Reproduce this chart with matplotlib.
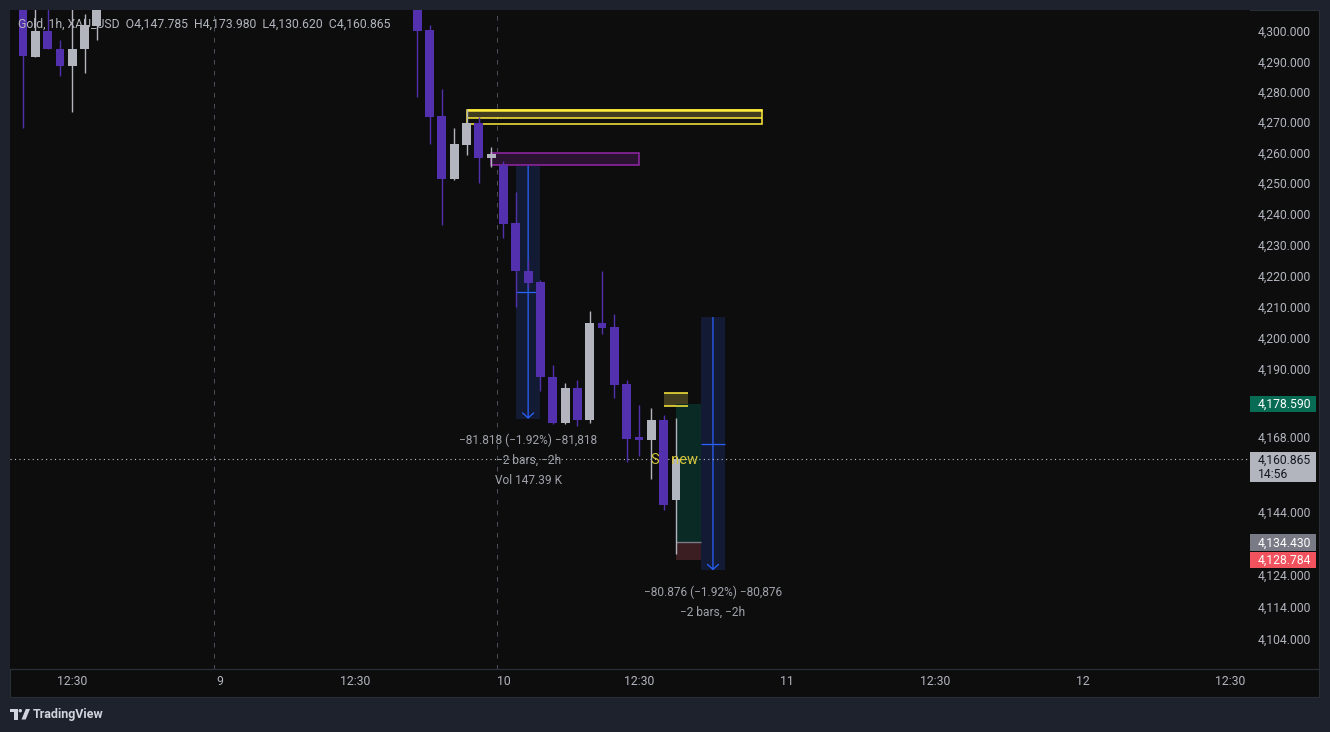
import numpy as np
import matplotlib
matplotlib.use("Agg")
import matplotlib.pyplot as plt
from matplotlib.patches import Rectangle, Polygon, Circle
from matplotlib.lines import Line2D
from matplotlib.transforms import IdentityTransform
from matplotlib.ticker import NullLocator, NullFormatter

plt.rcParams['font.family'] = ['Roboto', 'DejaVu Sans']

# ---------------- data ----------------
bar_index = [0, 1, 2, 3, 4, 5, 6,
             32, 33, 34, 35, 36, 37, 38, 39, 40, 41, 42, 43, 44, 45, 46,
             47, 48, 49, 50, 51, 52, 53]
opens  = [4312.0, 4291.5, 4300.0, 4294.05, 4288.3, 4294.2, 4301.8,
          4312.0, 4300.3, 4272.0, 4251.3, 4262.5, 4269.8, 4258.3, 4255.9,
          4237.1, 4221.5, 4217.9, 4187.3, 4172.3, 4183.8, 4173.3, 4204.5,
          4203.2, 4184.8, 4167.7, 4166.9, 4173.3, 4147.785]
highs  = [4315.0, 4310.0, 4309.0, 4297.0, 4308.0, 4305.6, 4315.0,
          4316.0, 4302.0, 4280.9, 4268.0, 4274.4, 4271.6, 4261.8, 4257.2,
          4247.0, 4225.0, 4218.6, 4191.2, 4185.4, 4186.1, 4208.5, 4221.5,
          4207.5, 4186.1, 4178.1, 4177.2, 4174.9, 4173.980]
lows   = [4268.1, 4291.3, 4294.0, 4285.3, 4273.2, 4286.1, 4297.0,
          4278.4, 4262.9, 4236.5, 4251.0, 4259.3, 4250.0, 4255.3, 4232.2,
          4209.8, 4216.0, 4182.6, 4172.0, 4172.0, 4171.4, 4172.3, 4201.0,
          4180.4, 4159.9, 4161.9, 4154.4, 4144.5, 4130.620]
closes = [4291.85, 4300.0, 4294.2, 4288.3, 4294.05, 4302.0, 4311.0,
          4300.1, 4271.8, 4251.4, 4262.8, 4269.8, 4258.3, 4259.6, 4236.8,
          4221.3, 4217.7, 4187.1, 4172.3, 4183.8, 4173.3, 4204.5, 4203.0,
          4184.6, 4167.4, 4167.0, 4173.3, 4146.1, 4160.865]

time_tick_pos = [4, 16, 27, 39, 50, 62, 74, 86, 98]
time_tick_labels = ["12:30", "9", "12:30", "10", "12:30", "11", "12:30", "12", "12:30"]
session_breaks = [15.5, 38.5]

price_ticks = [4300, 4290, 4280, 4270, 4260, 4250, 4240, 4230, 4220, 4210,
               4200, 4190, 4180, 4168, 4144, 4124, 4114, 4104]

header_text = "Gold, 1h, XAU_USD  O4,147.785  H4,173.980  L4,130.620  C4,160.865"
last_price = 4160.865
countdown = "14:56"

long_x = [53, 55]
long_target, long_entry, long_stop = 4178.590, 4134.430, 4128.784

zone1_x = [36, 60]
zone1_prices = [4269.4, 4271.3, 4274.1]
zone2_x = [38, 50]
zone2_prices = [4255.9, 4259.8]
zone3_x = [52, 54]
zone3_prices = [4177.8, 4182.0]

meas1_x = [40, 42]
meas1_prices = [4173.80, 4255.62]
meas1_text = ["\u221281.818 (\u22121.92%) \u221281,818", "\u22122 bars, \u22122h", "Vol 147.39 K"]
meas2_x = [55, 57]
meas2_prices = [4125.52, 4206.40]
meas2_text = ["\u221280.876 (\u22121.92%) \u221280,876", "\u22122 bars, \u22122h"]

note_text = "SL new"
note_pos = (50.95, 4160.7)

# ---------------- style ----------------
W, H = 1330, 732
OUTER = '#1e222d'
CHART = '#0d0d0d'
GRIDC = '#2a2e39'
TXT = '#b2b5be'
BULL = '#b2b5be'
BEAR = '#5230ae'
BLUE = '#2962ff'
MEAS_FILL = '#131b34'
YEL = '#ffeb3b'
OLIVE = '#433d1f'

fig = plt.figure(figsize=(W / 100, H / 100), dpi=100, facecolor=OUTER)

def disp(x, y_top):
    return x, H - y_top

# chart frame background
fig.add_artist(Rectangle(disp(10, 697), 1309, 687, transform=IdentityTransform(),
                         fc=CHART, ec=GRIDC, lw=0.8, zorder=-5))

ax = fig.add_axes([10 / W, (H - 669) / H, 1240 / W, 659 / H])
ax.set_facecolor(CHART)
for s in ax.spines.values():
    s.set_visible(False)
ax.set_yscale('log')
ax.set_xlim(-1.055, 99.59)
ax.set_ylim(4094.33, 4306.94)

# y ticks on right
ax.yaxis.set_minor_locator(NullLocator())
ax.yaxis.set_minor_formatter(NullFormatter())
ax.set_yticks(price_ticks, [f"{p:,.3f}" for p in price_ticks])
ax.tick_params(axis='y', which='both', left=False, right=False, labelleft=False,
               labelright=True, length=0, pad=43.9, colors=TXT, labelsize=8.7)
for lab in ax.get_yticklabels():
    lab.set_horizontalalignment('right')
# x ticks
ax.xaxis.set_minor_locator(NullLocator())
ax.set_xticks(time_tick_pos, time_tick_labels)
ax.tick_params(axis='x', which='both', length=0, pad=4.6, colors=TXT, labelsize=8.8)

# session breaks
for sb in session_breaks:
    ax.axvline(sb, color='#4a4e58', lw=0.72, ls=(0, (4.5, 6.5)), zorder=0.5)

# ---------------- drawings ----------------
# yellow zone
ax.add_patch(Rectangle((zone1_x[0], zone1_prices[1]), zone1_x[1] - zone1_x[0],
                       zone1_prices[2] - zone1_prices[1], fc=OLIVE, ec='none', zorder=1))
ax.add_patch(Rectangle((zone1_x[0], zone1_prices[0]), zone1_x[1] - zone1_x[0],
                       zone1_prices[2] - zone1_prices[0], fc='none', ec=YEL, lw=1.1, zorder=1.2))
ax.hlines(zone1_prices[1], zone1_x[0], zone1_x[1], color=YEL, lw=1.1, zorder=1.2)
ax.hlines(zone1_prices[2], zone1_x[0], zone1_x[1], color=YEL, lw=1.8, zorder=1.2)

# purple zone
ax.add_patch(Rectangle((zone2_x[0], zone2_prices[0]), zone2_x[1] - zone2_x[0],
                       zone2_prices[1] - zone2_prices[0], fc='#2a1331', ec='#9427a8',
                       lw=1.1, zorder=1))

# small yellow zone
ax.add_patch(Rectangle((zone3_x[0], zone3_prices[0]), zone3_x[1] - zone3_x[0],
                       zone3_prices[1] - zone3_prices[0], fc=OLIVE, ec='none', zorder=1))
ax.hlines(zone3_prices, zone3_x[0], zone3_x[1], color=YEL, lw=1.1, zorder=1.2)

# long position tool
ax.add_patch(Rectangle((long_x[0], long_entry), long_x[1] - long_x[0], long_target - long_entry,
                       fc='#0a2a26', ec='none', zorder=1))
ax.add_patch(Rectangle((long_x[0], long_stop), long_x[1] - long_x[0], long_entry - long_stop,
                       fc='#3a1e21', ec='none', zorder=1))
ax.hlines(long_entry, long_x[0], long_x[1], color='#787b86', lw=1.0, zorder=1.2)

# measurement tools
def measure(xr, pr, texts):
    bot, top = pr
    ax.add_patch(Rectangle((xr[0], bot), xr[1] - xr[0], top - bot, fc=MEAS_FILL, ec='none', zorder=1))
    xm = (xr[0] + xr[1]) / 2
    ax.annotate('', xy=(xm, bot), xytext=(xm, top),
                arrowprops=dict(arrowstyle='->,head_length=0.36,head_width=0.4', color=BLUE,
                                lw=0.9, shrinkA=0, shrinkB=0, mutation_scale=10), zorder=1.3)
    mid = np.sqrt(bot * top)
    ax.hlines(mid, xr[0], xr[1], color=BLUE, lw=0.9, zorder=1.3)
    for k, t in enumerate(texts):
        ax.annotate(t, xy=(xm, bot), xytext=(0, -22 - 20 * k), textcoords='offset pixels',
                    ha='center', va='center', color='#a0a3ab', fontsize=8.6, zorder=6,
                    annotation_clip=False)

measure(meas1_x, meas1_prices, meas1_text)
measure(meas2_x, meas2_prices, meas2_text)

# current price dotted line
ax.axhline(last_price, color='#c3c6ce', lw=0.8, ls=(0, (1, 3)), zorder=2)

# ---------------- candles ----------------
bi = np.array(bar_index, dtype=float)
o = np.array(opens); h = np.array(highs); l = np.array(lows); c = np.array(closes)
up = c >= o
for mask, col, z in [(up, BULL, 3), (~up, BEAR, 4)]:
    ax.vlines(bi[mask], l[mask], h[mask], color=col, lw=1.0, zorder=z)
    bottoms = np.minimum(o, c)[mask]
    heights = np.maximum(np.abs(c - o)[mask], 0.9)
    ax.bar(bi[mask], heights, width=0.72, bottom=bottoms, color=col, lw=0, zorder=z)

ax.text(note_pos[0], note_pos[1], note_text, color='#d6c53a', fontsize=10.5,
        ha='left', va='center', zorder=3.5)

# ---------------- price labels on the right axis ----------------
def price_box(price, fc, tc, text, h_up=8, h_dn=8, sub=None):
    yd = ax.transData.transform((0, price))[1]
    fig.add_artist(Rectangle((1250, yd - h_dn), 66, h_up + h_dn, transform=IdentityTransform(),
                             fc=fc, ec='none', zorder=5))
    fig.text(1311, yd - 4.3, text, transform=IdentityTransform(), ha='right', va='baseline',
             color=tc, fontsize=8.7, zorder=6)
    if sub is not None:
        fig.text(1258, yd - 18.6, sub, transform=IdentityTransform(), ha='left', va='baseline',
                 color=tc, fontsize=8.7, zorder=6)

price_box(long_target, '#086c55', 'white', f"{long_target:,.3f}")
price_box(last_price, '#b2b5be', '#131722', f"{last_price:,.3f}", h_up=7.5, h_dn=23, sub=countdown)
price_box(long_entry, '#787b86', 'white', f"{long_entry:,.3f}", h_up=8.5, h_dn=8.5)
price_box(long_stop, '#f0525e', 'white', f"{long_stop:,.3f}", h_up=8, h_dn=8)

# separator between plot and time axis
fig.add_artist(Line2D([10, 1319], [H - 669, H - 669], transform=IdentityTransform(),
                      color=GRIDC, lw=0.9, zorder=4))

# header legend
fig.text(18, H - 24.5, header_text, transform=IdentityTransform(), ha='left', va='center',
         color=TXT, fontsize=8.82, zorder=6)

# TradingView logo + text
lc = '#d1d4dc'
fig.add_artist(Rectangle(disp(10, 712), 7.5, 3.2, transform=IdentityTransform(), fc=lc, ec='none'))
fig.add_artist(Rectangle(disp(14, 719.5), 3.5, 10.5, transform=IdentityTransform(), fc=lc, ec='none'))
fig.add_artist(Circle(disp(20.3, 710.7), 1.7, transform=IdentityTransform(), fc=lc, ec='none'))
fig.add_artist(Polygon([disp(21.5, 719.5), disp(25.8, 709), disp(30, 709), disp(25.7, 719.5)],
                       closed=True, transform=IdentityTransform(), fc=lc, ec='none'))
fig.text(33, H - 714.5, "TradingView", transform=IdentityTransform(), ha='left', va='center',
         color=lc, fontsize=9, fontweight='bold')

fig.savefig('out.png', dpi=100, facecolor=OUTER)
